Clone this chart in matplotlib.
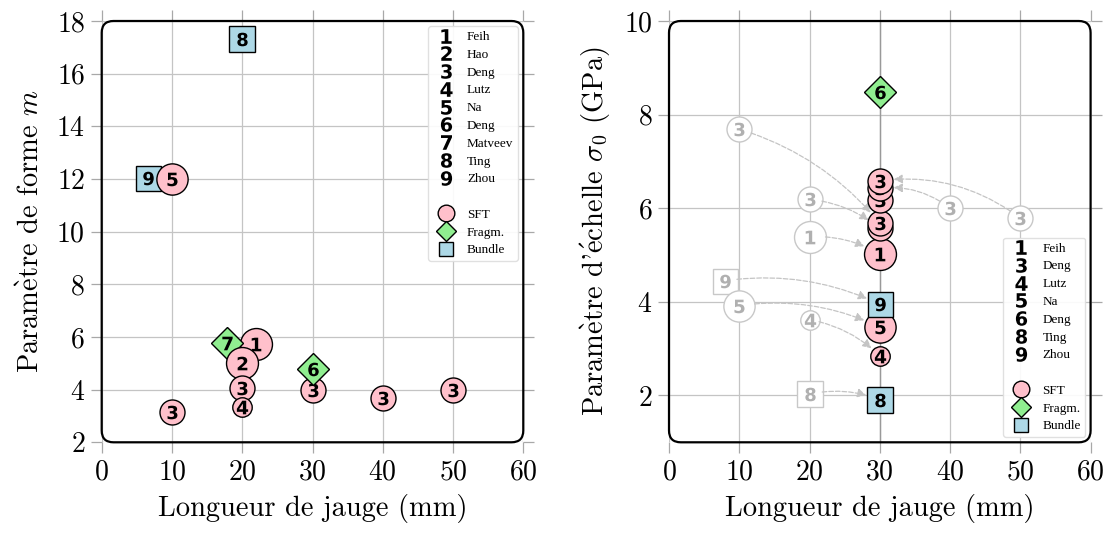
import numpy as np
import matplotlib
matplotlib.use("Agg")
import matplotlib.pyplot as plt
from matplotlib.patches import FancyBboxPatch
from matplotlib.lines import Line2D
from matplotlib.path import Path
from matplotlib.textpath import TextPath
from matplotlib.font_manager import FontProperties

plt.rcParams['font.family'] = ['cmr10', 'DejaVu Serif']
plt.rcParams['mathtext.fontset'] = 'cm'
plt.rcParams['axes.formatter.use_mathtext'] = True

# sources (id = position + 1)
sources = ['Feih', 'Hao', 'Deng', 'Lutz', 'Na', 'Deng', 'Matveev', 'Ting', 'Zhou']
source_kind = ['SFT', 'SFT', 'SFT', 'SFT', 'SFT', 'Fragm.', 'Fragm.', 'Bundle', 'Bundle']

# left panel: Weibull modulus m vs gauge length
m_id = [1, 7, 2, 3, 4, 3, 6, 9, 5, 8, 3, 3, 3]
m_gauge = [22, 17.9, 20, 20, 20, 30, 30, 6.6, 10, 20, 10, 40, 50]
m_value = [5.75, 5.78, 5.0, 4.05, 3.35, 3.99, 4.77, 12.03, 12.0, 17.3, 3.16, 3.67, 3.99]

# right panel: scale parameter, original gauge length -> rescaled to 30 mm
s_id = [3, 3, 1, 3, 3, 9, 5, 4, 8]
s_gauge = [10, 20, 20, 40, 50, 7.9, 10, 20, 20]
s_orig = [7.69, 6.19, 5.39, 6.0, 5.79, 4.45, 3.92, 3.62, 2.03]
s_scaled = [5.68, 5.57, 5.02, 6.43, 6.59, 3.95, 3.46, 2.85, 1.91]
# points measured directly at 30 mm
s30_id = [3, 6]
s30_value = [6.17, 8.49]
ref_gauge = 30

left_legend_ids = [1, 2, 3, 4, 5, 6, 7, 8, 9]
right_legend_ids = [1, 3, 4, 5, 6, 8, 9]

# styles
kind_marker = {'SFT': 'o', 'Fragm.': 'D', 'Bundle': 's'}
kind_color = {'SFT': 'pink', 'Fragm.': 'lightgreen', 'Bundle': 'lightblue'}
source_size = [23, 23, 18, 14, 22.5, 16, 16, 18.5, 18]
digit_size = 9.8
ghost_edge = '#c8c8c8'
ghost_text = '#b0b0b0'
label_fs = 20.5
tick_fs = 20


def digit_path(ch):
    tp = TextPath((0, 0), ch, prop=FontProperties(family='DejaVu Sans', weight='bold'))
    verts = tp.vertices.copy()
    codes = tp.codes
    keep = codes != Path.CLOSEPOLY
    lo = verts[keep].min(axis=0)
    hi = verts[keep].max(axis=0)
    verts = verts - (lo + hi) / 2
    verts[~keep] = 0
    return Path(verts, codes)


def draw_point(ax, sid, x, y, z, ghost=False):
    kind = source_kind[sid - 1]
    ms = source_size[sid - 1]
    if ghost:
        ax.plot(x, y, marker=kind_marker[kind], ms=ms, mfc='white', mec=ghost_edge,
                mew=1.0, ls='none', zorder=z)
        ax.plot(x, y, marker=digit_path(str(sid)), ms=digit_size, mfc=ghost_text,
                mec='none', mew=0, ls='none', zorder=z + 0.5)
    else:
        ax.plot(x, y, marker=kind_marker[kind], ms=ms, mfc=kind_color[kind], mec='black',
                mew=1.0, ls='none', zorder=z)
        ax.plot(x, y, marker=digit_path(str(sid)), ms=digit_size, mfc='black',
                mec='none', mew=0, ls='none', zorder=z + 0.5)


def style_axes(ax):
    for sp in ax.spines.values():
        sp.set_visible(False)
    ax.set_axisbelow(True)
    ax.grid(True, color='#c4c4c4', lw=0.9)
    ax.tick_params(direction='out', length=8, width=0.9, color='#a8a8a8',
                   labelsize=tick_fs, top=True, right=True, pad=4)
    frame = FancyBboxPatch((0, 0), 1, 1, boxstyle='round,pad=0,rounding_size=0.028',
                           transform=ax.transAxes, fill=False, ec='black', lw=1.6,
                           clip_on=False, zorder=50)
    ax.add_patch(frame)


def add_legend(ax, ids, loc):
    handles, labels = [], []
    for sid in ids:
        handles.append(Line2D([], [], marker=digit_path(str(sid)), ms=10.5, mfc='black',
                              mec='none', ls='none'))
        labels.append(sources[sid - 1])
    handles.append(Line2D([], [], ls='none'))
    labels.append(' ')
    kind_ms = {'SFT': 12, 'Fragm.': 9.8, 'Bundle': 9.8}
    for kind in ['SFT', 'Fragm.', 'Bundle']:
        handles.append(Line2D([], [], marker=kind_marker[kind], ms=kind_ms[kind],
                              mfc=kind_color[kind], mec='black', mew=1.0, ls='none'))
        labels.append(kind)
    leg = ax.legend(handles, labels, loc=loc, prop={'family': 'Liberation Serif', 'size': 9.5},
                    labelspacing=0.42, handlelength=2.0, handletextpad=0.6,
                    borderaxespad=0.4, borderpad=0.35,
                    framealpha=0.9, edgecolor='#dddddd')
    leg.set_zorder(60)


fig = plt.figure(figsize=(11.08, 5.33), dpi=100)
ax1 = fig.add_axes([101.7 / 1108, 1 - 442.3 / 533, 421.6 / 1108, 421.3 / 533])
ax2 = fig.add_axes([669 / 1108, 1 - 442.3 / 533, 421.6 / 1108, 421.3 / 533])

# left panel
for i, (sid, x, y) in enumerate(zip(m_id, m_gauge, m_value)):
    draw_point(ax1, sid, x, y, 10 + 2 * i)
ax1.set_xlim(0, 60)
ax1.set_ylim(2, 18)
ax1.set_xticks(np.arange(0, 61, 10))
ax1.set_yticks(np.arange(2, 19, 2))
ax1.set_xlabel('Longueur de jauge (mm)', fontsize=label_fs, labelpad=6)
ax1.set_ylabel(r'Param$\grave{\mathrm{e}}$tre de forme $m$', fontsize=label_fs, labelpad=8)
style_axes(ax1)
add_legend(ax1, left_legend_ids, 'upper right')

# right panel
ax2.axvline(ref_gauge, color='#999999', lw=1.0, zorder=1)
for i, (sid, x, y0, y1) in enumerate(zip(s_id, s_gauge, s_orig, s_scaled)):
    draw_point(ax2, sid, x, y0, 5, ghost=True)
    ms0 = source_size[sid - 1]
    rad = -0.15 if x < ref_gauge else 0.2
    ax2.annotate('', xy=(ref_gauge, y1), xytext=(x, y0),
                 arrowprops=dict(arrowstyle='-|>', color='#c4c4c4', lw=0.9, ls='--',
                                 shrinkA=ms0 / 2, shrinkB=ms0 / 2 + 1,
                                 connectionstyle=f'arc3,rad={rad}', mutation_scale=13),
                 zorder=7)

pts = list(zip(s30_id, s30_value)) + list(zip(s_id, s_scaled))
pts.sort(key=lambda p: p[1])
# draw upper stack last so top Deng circles overlap the lower ones
for i, (sid, y) in enumerate(pts):
    draw_point(ax2, sid, ref_gauge, y, 10 + 2 * i)

ax2.set_xlim(0, 60)
ax2.set_ylim(1, 10)
ax2.set_xticks(np.arange(0, 61, 10))
ax2.set_yticks(np.arange(2, 11, 2))
ax2.set_xlabel('Longueur de jauge (mm)', fontsize=label_fs, labelpad=6)
ax2.set_ylabel(r"Param$\grave{\mathrm{e}}$tre d'$\acute{\mathrm{e}}$chelle $\sigma_0$ (GPa)",
               fontsize=label_fs, labelpad=8)
style_axes(ax2)
add_legend(ax2, right_legend_ids, 'lower right')

fig.savefig('out.png', dpi=100)
